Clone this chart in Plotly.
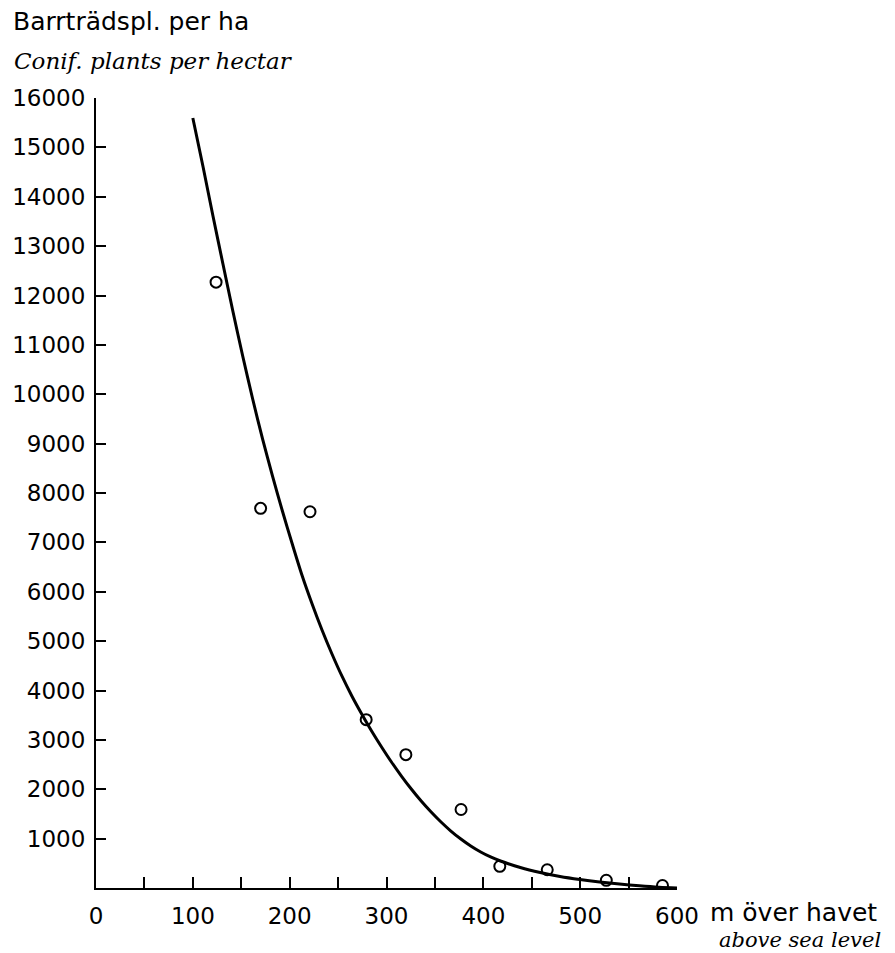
import plotly.graph_objects as go

# Observed data points (altitude m, conifer plants per ha)
obs_alt = [124, 170, 221, 279, 320, 377, 417, 466, 527, 585]
obs_plants = [12270, 7690, 7620, 3410, 2700, 1590, 440, 370, 156, 50]

# Fitted curve
curve_alt = [100, 110.6, 120.8, 131.1, 141.3, 151.5, 161.8, 172.0, 182.3,
             192.5, 202.7, 213.0, 223.2, 233.4, 243.7, 253.9, 264.2, 274.4,
             284.6, 294.9, 305.1, 315.4, 325.6, 335.8, 346.1, 356.3, 366.5,
             376.8, 387.0, 397.3, 407.5, 417.7, 438.2, 458.7, 479.2, 499.7,
             520.1, 540.6, 561.1, 581.6, 600]
curve_plants = [15595, 14603, 13610, 12638, 11686, 10775, 9904, 9094, 8344,
                7635, 6967, 6319, 5752, 5225, 4739, 4294, 3889, 3524, 3180,
                2856, 2552, 2268, 2005, 1762, 1539, 1337, 1154, 992, 851,
                729, 628, 547, 415, 314, 233, 172, 122, 81, 45, 16, 0]

y_ticks = list(range(1000, 16001, 1000))
y_labels = [str(v) for v in y_ticks]
x_ticks = list(range(0, 601, 100))
x_labels = [str(v) for v in x_ticks]

FONT = "DejaVu Sans"
ITAL = "DejaVu Serif"

fig = go.Figure()
fig.add_trace(go.Scatter(
    x=curve_alt, y=curve_plants, mode="lines",
    line=dict(color="black", width=3, shape="spline", smoothing=0.8),
    hoverinfo="skip", showlegend=False))
fig.add_trace(go.Scatter(
    x=obs_alt, y=obs_plants, mode="markers",
    marker=dict(symbol="circle-open", size=11, color="black",
                line=dict(width=2, color="black")),
    showlegend=False))

L, R, T, B = 91, 218, 98, 65
W, H = 895, 953
pw, ph = W - L - R, H - T - B


def px(xp):
    return (xp - L) / pw


def py(yp):
    return (H - B - yp) / ph


fig.update_layout(
    width=W, height=H,
    margin=dict(l=L, r=R, t=T, b=B),
    paper_bgcolor="white", plot_bgcolor="white",
    font=dict(family=FONT, color="black"),
    xaxis=dict(range=[0, 600], showgrid=False, zeroline=False,
               showline=True, linecolor="black", linewidth=2,
               ticks="inside", ticklen=11, tickwidth=2, tickcolor="black",
               tickvals=x_ticks, ticktext=x_labels, ticklabelstandoff=6,
               tickfont=dict(size=23, family=FONT),
               minor=dict(tickvals=[50, 150, 250, 350, 450, 550],
                          ticks="inside", ticklen=11, tickwidth=2,
                          tickcolor="black")),
    yaxis=dict(range=[0, 16000], showgrid=False, zeroline=False,
               showline=True, linecolor="black", linewidth=2,
               ticks="inside", ticklen=10, tickwidth=2, tickcolor="black",
               tickvals=y_ticks, ticktext=y_labels, ticklabelstandoff=4,
               tickfont=dict(size=23, family=FONT)),
    annotations=[
        dict(text="Barrträdspl. per ha", xref="paper", yref="paper",
             x=px(5), y=py(22), xanchor="left", yanchor="middle",
             showarrow=False, font=dict(size=25, family=FONT)),
        dict(text="<i>Conif. plants per hectar</i>", xref="paper", yref="paper",
             x=px(6), y=py(61), xanchor="left", yanchor="middle",
             showarrow=False, font=dict(size=23, family=ITAL)),
        dict(text="m över havet", xref="paper", yref="paper",
             x=px(708), y=py(912), xanchor="left", yanchor="middle",
             showarrow=False, font=dict(size=25, family=FONT)),
        dict(text="<i>above sea level</i>", xref="paper", yref="paper",
             x=px(885), y=py(940), xanchor="right", yanchor="middle",
             showarrow=False, font=dict(size=21, family=ITAL)),
    ],
)

fig.write_html("out.html")
